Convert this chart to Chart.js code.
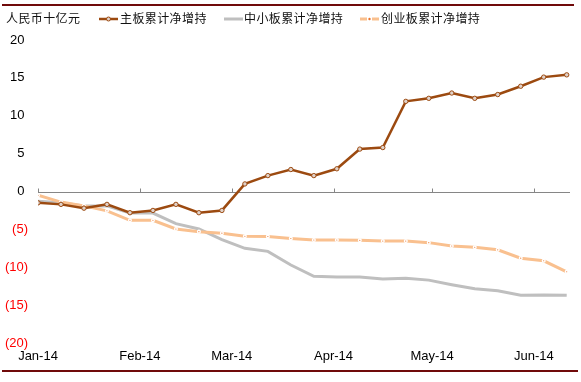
<!DOCTYPE html>
<html>
<head>
<meta charset="utf-8">
<script src="https://cdn.jsdelivr.net/npm/chart.js@4.4.1/dist/chart.umd.min.js"></script>
<style>
  html, body { margin: 0; padding: 0; background: #fff; }
  #wrap { position: relative; width: 581px; height: 382px; overflow: hidden; }
  #c { position: absolute; left: 0; top: 0; }
  .rule { position: absolute; left: 2px; height: 2px; background: #700A0A; }
  .txt { position: absolute; font-family: "Noto Sans CJK SC", sans-serif; font-size: 12px; color: #111; white-space: nowrap; letter-spacing: 0.4px; line-height: 14px; }
  .sw { position: absolute; }
</style>
</head>
<body>
<div id="wrap">
  <canvas id="c" width="581" height="382"></canvas>
  <div class="rule" style="top:4px; width:572px;"></div>
  <div class="rule" style="top:370px; width:576px;"></div>
  <div class="txt" style="left:6px; top:11px;">人民币十亿元</div>
  <svg class="sw" style="left:98px; top:13px;" width="22" height="12">
    <line x1="1" y1="6" x2="20" y2="6" stroke="#9C4A10" stroke-width="2.5"/>
    <circle cx="10.5" cy="6" r="2" fill="#E0D2CA" stroke="#9C4A10" stroke-width="1"/>
  </svg>
  <div class="txt" style="left:120px; top:11px;">主板累计净增持</div>
  <svg class="sw" style="left:223px; top:13px;" width="22" height="12">
    <line x1="1" y1="6" x2="20" y2="6" stroke="#BFBFBF" stroke-width="3"/>
  </svg>
  <div class="txt" style="left:244px; top:11px;">中小板累计净增持</div>
  <svg class="sw" style="left:359px; top:13px;" width="22" height="12">
    <line x1="1" y1="6" x2="8" y2="6" stroke="#F9C08F" stroke-width="3"/>
    <line x1="13" y1="6" x2="20" y2="6" stroke="#F9C08F" stroke-width="3"/>
    <circle cx="10.5" cy="6" r="1.2" fill="#E8732E"/>
  </svg>
  <div class="txt" style="left:381px; top:11px;">创业板累计净增持</div>
</div>
<script>
// ---- data ----
const weekDates = ['2014-01-01','2014-01-08','2014-01-15','2014-01-22','2014-01-29','2014-02-05',
  '2014-02-12','2014-02-19','2014-02-26','2014-03-05','2014-03-12','2014-03-19','2014-03-26',
  '2014-04-02','2014-04-09','2014-04-16','2014-04-23','2014-04-30','2014-05-07','2014-05-14',
  '2014-05-21','2014-05-28','2014-06-04','2014-06-11'];
const mainBoard = [-1.5, -1.7, -2.2, -1.7, -2.8, -2.5, -1.7, -2.8, -2.5, 1.0, 2.1, 2.9, 2.1, 3.0,
  5.6, 5.8, 11.9, 12.3, 13.0, 12.3, 12.8, 13.9, 15.1, 15.4];
const smeBoard = [-1.3, -1.5, -1.9, -1.9, -2.85, -2.85, -4.25, -4.95, -6.35, -7.5, -7.9, -9.7,
  -11.2, -11.3, -11.3, -11.55, -11.45, -11.7, -12.3, -12.85, -13.1, -13.7, -13.65, -13.7];
const chinextBoard = [-0.5, -1.4, -1.9, -2.55, -3.8, -3.8, -4.95, -5.3, -5.5, -5.9, -5.95, -6.2,
  -6.4, -6.4, -6.45, -6.55, -6.55, -6.75, -7.2, -7.35, -7.7, -8.8, -9.15, -10.6];
const seriesNames = ['主板累计净增持', '中小板累计净增持', '创业板累计净增持'];
const monthStarts = ['2014-01-01','2014-02-01','2014-03-01','2014-04-01','2014-05-01','2014-06-01'];
const monthLabels = ['Jan-14','Feb-14','Mar-14','Apr-14','May-14','Jun-14'];
const yTicks = [20, 15, 10, 5, 0, -5, -10, -15, -20];

// ---- helpers ----
const DAY = 86400000;
const origin = Date.UTC(2014, 0, 1);
const toDay = s => { const [y, m, d] = s.split('-').map(Number); return (Date.UTC(y, m - 1, d) - origin) / DAY; };
const xDays = weekDates.map(toDay);
const monthDays = monthStarts.map(toDay);
const pts = arr => arr.map((v, i) => ({ x: xDays[i], y: v }));

const zeroAxis = {
  id: 'zeroAxis',
  beforeDatasetsDraw(chart) {
    const { ctx, chartArea, scales } = chart;
    const y0 = Math.round(scales.y.getPixelForValue(0)) + 0.5;
    ctx.save();
    ctx.strokeStyle = '#868686';
    ctx.lineWidth = 1;
    ctx.beginPath();
    ctx.moveTo(chartArea.left, y0);
    ctx.lineTo(chartArea.right, y0);
    monthDays.forEach(d => {
      const x = Math.round(scales.x.getPixelForValue(d)) + 0.5;
      ctx.moveTo(x, y0);
      ctx.lineTo(x, y0 - 4);
    });
    ctx.stroke();
    ctx.restore();
  }
};

new Chart(document.getElementById('c'), {
  type: 'line',
  data: {
    datasets: [
      { label: seriesNames[0], data: pts(mainBoard), borderColor: '#9C4A10', borderWidth: 2.5,
        pointRadius: 2.2, pointBackgroundColor: '#E0D2CA', pointBorderColor: '#9C4A10', pointBorderWidth: 1,
        tension: 0, order: 1 },
      { label: seriesNames[1], data: pts(smeBoard), borderColor: '#BFBFBF', borderWidth: 3,
        pointRadius: 0, tension: 0, order: 3 },
      { label: seriesNames[2], data: pts(chinextBoard), borderColor: '#F9C08F', borderWidth: 3,
        pointRadius: 1.3, pointBackgroundColor: '#E8732E', pointBorderColor: '#ffffff', pointBorderWidth: 1.5,
        tension: 0, order: 2 }
    ]
  },
  options: {
    responsive: false,
    animation: false,
    layout: { padding: { left: 0, right: 11, top: 40, bottom: 17 } },
    plugins: { legend: { display: false }, tooltip: { enabled: false } },
    scales: {
      x: {
        type: 'linear', min: 0, max: 162,
        afterBuildTicks: s => { s.ticks = monthDays.map(v => ({ value: v })); },
        afterFit: s => { s.height = 22; },
        grid: { display: false, drawTicks: false },
        border: { display: false },
        ticks: {
          padding: 6, maxRotation: 0, autoSkip: false, color: '#000',
          font: { family: 'Liberation Sans, Arial, sans-serif', size: 13 },
          callback: v => monthLabels[monthDays.indexOf(v)] ?? ''
        }
      },
      y: {
        min: -20, max: 20,
        afterBuildTicks: s => { s.ticks = yTicks.map(v => ({ value: v })); },
        afterFit: s => { s.width = 38; },
        grid: { display: false, drawTicks: false },
        border: { display: false },
        ticks: {
          padding: 10,
          font: { family: 'Liberation Sans, Arial, sans-serif', size: 13 },
          color: c => (c.tick && c.tick.value < 0) ? '#FF0000' : '#000',
          callback: v => v < 0 ? '(' + Math.abs(v) + ')' : v + ' '
        }
      }
    }
  },
  plugins: [zeroAxis]
});
</script>
</body>
</html>
